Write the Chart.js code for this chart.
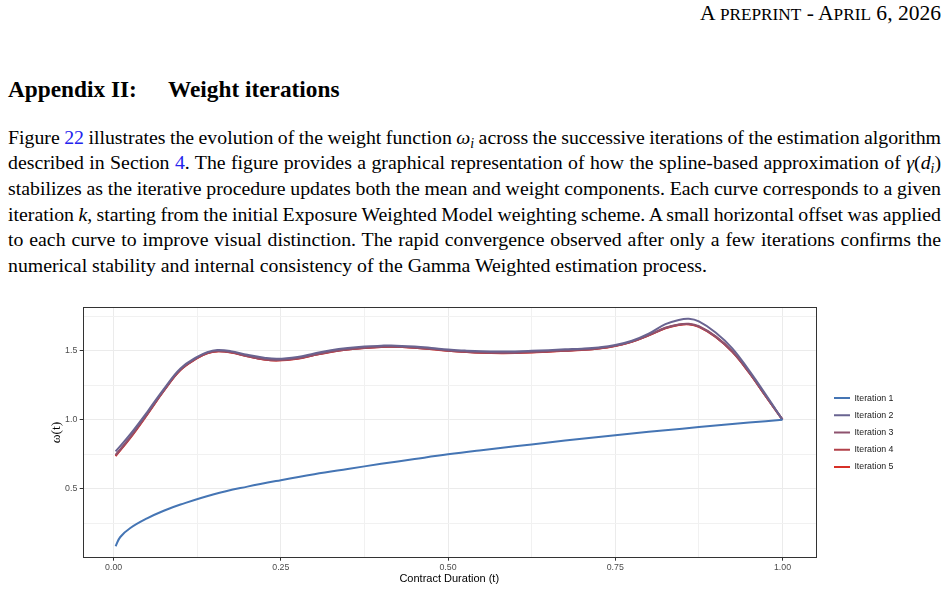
<!DOCTYPE html>
<html><head><meta charset="utf-8">
<title>Weight iterations</title>
<script src="https://cdn.jsdelivr.net/npm/chart.js@4.4.1/dist/chart.umd.min.js"></script>
<style>
html,body{margin:0;padding:0;background:#fff;}
body{width:949px;height:591px;position:relative;overflow:hidden;font-family:"Liberation Serif","Times New Roman",serif;color:#000;}
#hdr{position:absolute;right:8px;top:4px;font-size:20px;line-height:1;white-space:nowrap;}
#hdr .sc{font-size:0.8em;}
.hd{position:absolute;top:77.5px;font-size:23.3px;line-height:1;font-weight:bold;white-space:nowrap;}
.ln{position:absolute;left:8px;width:933px;font-size:17.5px;line-height:22px;white-space:nowrap;}
.lk{color:#2323ee;}
sub{font-size:0.7em;line-height:0;vertical-align:-0.28em;}
#wrap{position:absolute;left:0;top:295px;width:949px;height:296px;}
</style></head>
<body>
<div id="hdr"><span id="hdrIn">A <span class="sc">PREPRINT</span> - A<span class="sc">PRIL</span> 6, 2026</span></div>
<div class="hd" style="left:8px">Appendix II:</div>
<div class="hd" style="left:168px">Weight iterations</div>

<div class="ln j"><span>Figure <span class="lk">22</span> illustrates the evolution of the weight function <i>ω<sub>i</sub></i> across the successive iterations of the estimation algorithm</span></div>
<div class="ln j"><span>described in Section <span class="lk">4</span>. The figure provides a graphical representation of how the spline-based approximation of <i>γ</i>(<i>d<sub>i</sub></i>)</span></div>
<div class="ln j"><span>stabilizes as the iterative procedure updates both the mean and weight components. Each curve corresponds to a given</span></div>
<div class="ln j"><span>iteration <i>k</i>, starting from the initial Exposure Weighted Model weighting scheme. A small horizontal offset was applied</span></div>
<div class="ln j"><span>to each curve to improve visual distinction. The rapid convergence observed after only a few iterations confirms the</span></div>
<div class="ln"><span>numerical stability and internal consistency of the Gamma Weighted estimation process.</span></div>

<div id="wrap"><canvas id="c" width="949" height="296"></canvas></div>

<script>
// ---------- data ----------
const seriesNames = ['Iteration 1', 'Iteration 2', 'Iteration 3', 'Iteration 4', 'Iteration 5'];

// Iteration 1 (initial exposure weighting)
const t1 = [0.003, 0.01, 0.025, 0.05, 0.075, 0.1, 0.15, 0.2, 0.25, 0.3, 0.35, 0.4, 0.45, 0.5, 0.55, 0.6, 0.65, 0.7, 0.75, 0.8, 0.85, 0.9, 0.95, 1.0];
const iter1 = [0.083, 0.15, 0.215, 0.285, 0.34, 0.385, 0.46, 0.515, 0.562, 0.605, 0.643, 0.68, 0.715, 0.749, 0.779, 0.807, 0.835, 0.862, 0.888, 0.912, 0.935, 0.958, 0.979, 1.0];

// Iterations 2-5 share the same duration grid
const tk = [0.003, 0.025, 0.05, 0.075, 0.1, 0.125, 0.14, 0.155, 0.175, 0.2, 0.225, 0.245, 0.275, 0.3, 0.325, 0.35, 0.375, 0.4, 0.415, 0.45, 0.475, 0.5, 0.525, 0.55, 0.58, 0.6, 0.625, 0.65, 0.675, 0.7, 0.725, 0.75, 0.775, 0.8, 0.825, 0.845, 0.86, 0.875, 0.9, 0.925, 0.95, 0.975, 1.0];
const iter2 = [0.770, 0.895, 1.054, 1.222, 1.372, 1.455, 1.490, 1.505, 1.497, 1.470, 1.449, 1.441, 1.455, 1.480, 1.503, 1.519, 1.530, 1.536, 1.538, 1.530, 1.520, 1.508, 1.501, 1.496, 1.494, 1.495, 1.499, 1.504, 1.510, 1.515, 1.524, 1.541, 1.572, 1.623, 1.692, 1.723, 1.731, 1.712, 1.632, 1.517, 1.357, 1.182, 1.0];
const iter3 = [0.745, 0.876, 1.041, 1.212, 1.363, 1.449, 1.484, 1.498, 1.490, 1.462, 1.439, 1.432, 1.445, 1.471, 1.494, 1.511, 1.522, 1.529, 1.531, 1.524, 1.514, 1.502, 1.494, 1.488, 1.485, 1.486, 1.490, 1.496, 1.502, 1.508, 1.518, 1.536, 1.567, 1.613, 1.666, 1.690, 1.695, 1.677, 1.604, 1.495, 1.345, 1.172, 1.0];
const iter4 = [0.740, 0.871, 1.038, 1.210, 1.361, 1.447, 1.482, 1.496, 1.488, 1.460, 1.437, 1.430, 1.443, 1.469, 1.492, 1.509, 1.520, 1.527, 1.529, 1.522, 1.512, 1.500, 1.492, 1.486, 1.483, 1.484, 1.488, 1.494, 1.500, 1.506, 1.516, 1.535, 1.566, 1.612, 1.664, 1.688, 1.692, 1.674, 1.602, 1.493, 1.343, 1.171, 1.0];
const iter5 = [0.736, 0.868, 1.035, 1.208, 1.360, 1.446, 1.481, 1.495, 1.487, 1.459, 1.436, 1.429, 1.442, 1.468, 1.491, 1.508, 1.519, 1.526, 1.528, 1.521, 1.511, 1.499, 1.491, 1.485, 1.482, 1.483, 1.487, 1.493, 1.499, 1.505, 1.515, 1.534, 1.565, 1.611, 1.662, 1.686, 1.691, 1.672, 1.600, 1.492, 1.342, 1.170, 1.0];

// axis ticks
const xMajorTicks = [0, 0.25, 0.5, 0.75, 1.0];
const xMajorLabels = ['0.00', '0.25', '0.50', '0.75', '1.00'];
const xMinorTicks = [0.125, 0.375, 0.625, 0.875];
const yMajorTicks = [0.5, 1.0, 1.5];
const yMajorLabels = ['0.5', '1.0', '1.5'];
const yMinorTicks = [0.25, 0.75, 1.25, 1.75];
const xRange = [-0.0462, 1.0498];
const yRange = [0.0, 1.8145];

// ---------- styles ----------
const seriesColors = ['#4575B4', '#696491', '#8E526E', '#B2414A', '#D73027'];
const SANS = "'Liberation Sans', Arial, Helvetica, sans-serif";
const GRID_MAJOR = '#EBEBEB', GRID_MINOR = '#F1F1F1', TICK_COL = '#333333';

function near(v, arr) { return arr.some(a => Math.abs(a - v) < 1e-9); }
function labelFor(v, vals, labs) { const i = vals.findIndex(a => Math.abs(a - v) < 1e-9); return i >= 0 ? labs[i] : ''; }

// ---------- text layout helpers ----------
(function () {
  const hin = document.getElementById('hdrIn');
  const hdr = document.getElementById('hdr');
  const w = hin.getBoundingClientRect().width;
  const f = 20 * 241 / w;
  hdr.style.fontSize = f + 'px';
  hdr.style.top = (21 - 0.8375 * f) + 'px';

  const lines = Array.from(document.querySelectorAll('.ln'));
  const just = lines.filter(l => l.classList.contains('j'));
  let sum = 0;
  just.forEach(el => { sum += 933 / el.firstElementChild.getBoundingClientRect().width; });
  const fs = 17.5 * sum / just.length;
  lines.forEach((el, k) => {
    el.style.fontSize = fs + 'px';
    el.style.top = (143.5 + 25.6 * k - 11 - 0.3375 * fs) + 'px';
  });
  just.forEach(el => {
    const inner = el.firstElementChild;
    const nw = inner.getBoundingClientRect().width;
    const spaces = (inner.textContent.match(/ /g) || []).length;
    inner.style.wordSpacing = ((933 - nw) / spaces) + 'px';
  });
})();

// ---------- chart ----------
const yLists = [iter1, iter2, iter3, iter4, iter5];
const xLists = [t1, tk, tk, tk, tk];
const datasets = yLists.map((ys, k) => ({
  label: seriesNames[k],
  data: ys.map((y, i) => ({ x: xLists[k][i], y: y })),
  borderColor: seriesColors[k],
  backgroundColor: seriesColors[k],
  borderWidth: 2,
  pointRadius: 0,
  fill: false,
  tension: 0.4
}));

const panelBorder = {
  id: 'panelBorder',
  afterDatasetsDraw(chart) {
    const { ctx, chartArea: a } = chart;
    ctx.save();
    ctx.strokeStyle = '#333333';
    ctx.lineWidth = 1;
    ctx.strokeRect(Math.round(a.left) + 0.5, Math.round(a.top) + 0.5, Math.round(a.right - a.left), Math.round(a.bottom - a.top));
    ctx.restore();
  }
};

new Chart(document.getElementById('c'), {
  type: 'line',
  data: { datasets },
  options: {
    responsive: false,
    maintainAspectRatio: false,
    animation: false,
    devicePixelRatio: 1,
    layout: { padding: { top: 12.3, right: 45.5, bottom: 0, left: 0 } },
    plugins: {
      legend: {
        position: 'right', align: 'center', fullSize: false,
        labels: { boxWidth: 16, boxHeight: 0, padding: 8.4, color: '#1A1A1A', font: { family: SANS, size: 8.8 } }
      },
      tooltip: { enabled: false }
    },
    scales: {
      x: {
        type: 'linear', position: 'bottom', min: xRange[0], max: xRange[1],
        afterBuildTicks(s) { s.ticks = [...xMajorTicks, ...xMinorTicks].sort((a, b) => a - b).map(v => ({ value: v })); },
        afterFit(s) { s.height = 33.3; },
        ticks: { autoSkip: false, maxRotation: 0, padding: 1.5, color: '#4D4D4D', font: { family: SANS, size: 8.8 },
          callback: (v) => labelFor(v, xMajorTicks, xMajorLabels) },
        grid: {
          color: c => (c.tick && near(c.tick.value, xMajorTicks)) ? GRID_MAJOR : GRID_MINOR,
          lineWidth: 1, tickLength: 3, tickWidth: 1,
          tickColor: c => (c.tick && near(c.tick.value, xMajorTicks)) ? TICK_COL : 'rgba(0,0,0,0)'
        },
        border: { display: false },
        title: { display: true, text: 'Contract Duration (t)', color: '#000', font: { family: SANS, size: 11 }, padding: { top: 0, bottom: 5.6 } }
      },
      y: {
        type: 'linear', position: 'left', min: yRange[0], max: yRange[1],
        afterBuildTicks(s) { s.ticks = [...yMinorTicks, ...yMajorTicks].sort((a, b) => a - b).map(v => ({ value: v })); },
        afterFit(s) { s.width = 82.7; },
        ticks: { autoSkip: false, padding: 2.4, color: '#4D4D4D', font: { family: SANS, size: 8.8 },
          callback: (v) => labelFor(v, yMajorTicks, yMajorLabels) },
        grid: {
          color: c => (c.tick && near(c.tick.value, yMajorTicks)) ? GRID_MAJOR : GRID_MINOR,
          lineWidth: 1, tickLength: 3, tickWidth: 1,
          tickColor: c => (c.tick && near(c.tick.value, yMajorTicks)) ? TICK_COL : 'rgba(0,0,0,0)'
        },
        border: { display: false },
        title: { display: true, text: 'ω(t)', color: '#000', font: { family: "'Liberation Serif', serif", size: 13.5 }, padding: { top: 48.6, bottom: 0 } }
      },
      gap: {
        type: 'linear', position: 'right', display: true,
        grid: { display: false, drawTicks: false }, ticks: { display: false }, border: { display: false },
        afterFit(s) { s.width = 9.8; }
      }
    }
  },
  plugins: [panelBorder]
});
</script>
</body></html>
